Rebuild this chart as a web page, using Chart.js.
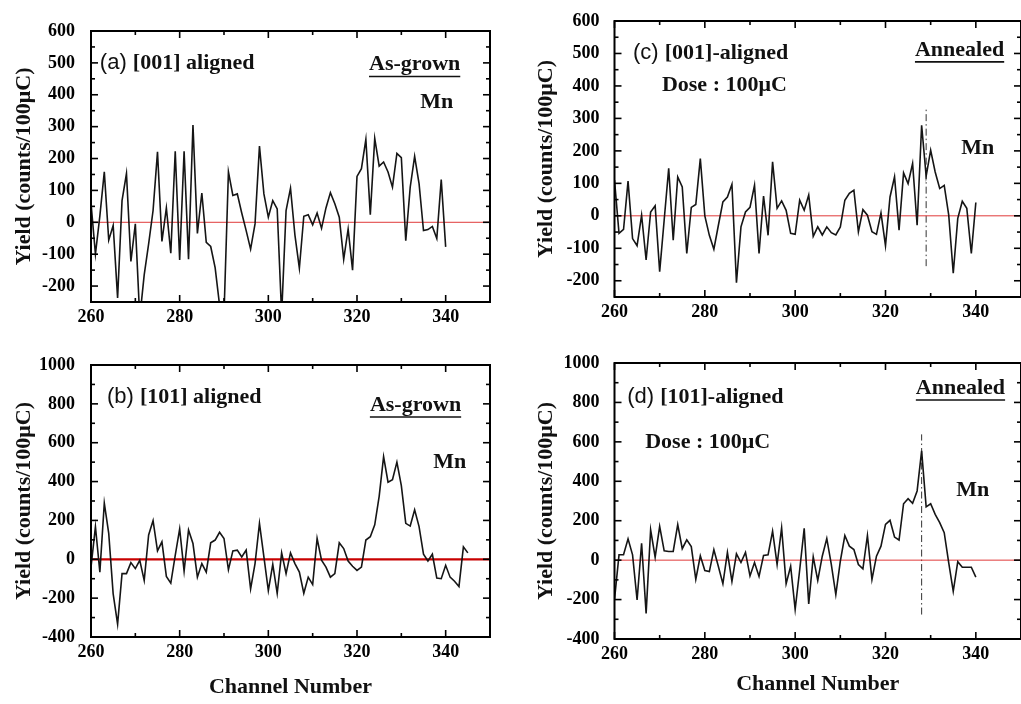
<!DOCTYPE html>
<html>
<head>
<meta charset="utf-8">
<script src="https://cdn.jsdelivr.net/npm/chart.js"></script>
<style>
  html, body { margin: 0; padding: 0; background: #fff; }
  body { width: 1021px; height: 704px; overflow: hidden; position: relative; }
  canvas { position: absolute; }
  #chartA { left: 0; top: 0; }
  #chartB { left: 0; top: 340px; }
  #chartC { left: 520px; top: 0; }
  #chartD { left: 520px; top: 340px; }
</style>
</head>
<body>
<canvas id="chartA" width="510" height="340"></canvas>
<canvas id="chartB" width="510" height="364"></canvas>
<canvas id="chartC" width="510" height="340"></canvas>
<canvas id="chartD" width="510" height="364"></canvas>
<script>
  // channel numbers
  const channelsTo340 = [
    260, 261, 262, 263, 264, 265, 266, 267, 268, 269, 270, 271, 272, 273, 274, 275, 276, 277, 278, 279,
    280, 281, 282, 283, 284, 285, 286, 287, 288, 289, 290, 291, 292, 293, 294, 295, 296, 297, 298, 299,
    300, 301, 302, 303, 304, 305, 306, 307, 308, 309, 310, 311, 312, 313, 314, 315, 316, 317, 318, 319,
    320, 321, 322, 323, 324, 325, 326, 327, 328, 329, 330, 331, 332, 333, 334, 335, 336, 337, 338, 339,
    340
  ];
  const channelsTo345 = channelsTo340.concat([341, 342, 343, 344, 345]);

  // yields (counts/100uC)
  const yieldA = [
    60, -100, 20, 158, -56, -10, -237, 68, 153, -123, -5, -300, -165, -68, 37, 221, -60, 45, -97, 223,
    -118, 223, -116, 305, -35, 92, -63, -76, -142, -260, -290, 158, 84, 89, 29, -26, -84, -5, 239, 89,
    16, 68, 42, -290, 37, 107, -40, -144, 19, 24, -8, 29, -19, 45, 93, 58, 16, -116, -21, -150,
    144, 168, 260, 24, 263, 176, 189, 158, 110, 216, 203, -58, 110, 207, 121, -26, -23, -13, -51, 134,
    -77
  ];
  const yieldB = [
    -40, 168, -66, 289, 133, -178, -334, -74, -74, -17, -48, -5, -109, 125, 199, 43, 90, -88, -123, 20,
    156, -61, 151, 81, -92, -22, -66, 85, 99, 139, 107, -54, 43, 47, 12, 47, -152, -22, 185, 12,
    -161, -26, -175, 33, -74, 33, -22, -66, -175, -92, -130, 107, -5, -40, -92, -74, 85, 55, -9, -36,
    -57, -40, 99, 116, 177, 324, 528, 397, 410, 500, 379, 185, 171, 255, 168, 26, -9, 26, -97, -100,
    -31, -92, -113, -140, 64, 33
  ];
  const yieldC = [
    110, -54, -42, 107, -70, -92, 2, -136, 12, 31, -172, -13, 146, -75, 120, 89, -116, 26, 35, 176,
    0, -60, -103, -29, 43, 58, 97, -206, -34, 12, 26, 94, -116, 61, -60, 166, 23, 46, 17, -54,
    -57, 48, 17, 64, -63, -34, -59, -34, -52, -59, -34, 48, 69, 79, -49, 19, 2, -49, -57, 9,
    -92, 58, 120, -44, 132, 99, 161, -29, 279, 122, 202, 135, 84, 94, 2, -177, -8, 45, 23, -116,
    41
  ];
  const yieldD = [
    -200, 27, 27, 108, 27, -202, 86, -270, 154, 15, 171, 47, 44, 44, 180, 58, 103, 69, -97, 22,
    -53, -58, 53, -32, -120, 39, -108, 32, -12, 39, -80, -12, -83, 24, 27, 147, -22, 164, -120, -31,
    -250, -50, 161, -222, 17, -103, 20, 110, -22, -175, -5, 125, 71, 54, -22, -44, 125, -98, 20, 71,
    181, 202, 117, 102, 286, 312, 288, 351, 554, 270, 286, 232, 190, 139, -14, -158, -8, -36, -36, -36,
    -86
  ];

  // axis ranges and tick steps
  const channelRange = [260, 350];
  const yRange001 = [-250, 600];
  const yRange101 = [-400, 1000];
  const zeroLevel = 0;

  // dash-dot Mn markers (channel, yield span)
  const markerC = [329, -155, 330];
  const markerD = [328, -276, 638];

  const serifBold = 'bold 22px "Liberation Serif", "DejaVu Serif", serif';
  const sans = '22px "Liberation Sans", Arial, sans-serif';

  const frameTicks = {
    id: 'frameTicks',
    afterDatasetsDraw(chart, args, opts) {
      const { ctx, chartArea: a, scales: { x, y } } = chart;
      ctx.save();
      ctx.strokeStyle = '#000';
      ctx.lineWidth = 2;
      ctx.strokeRect(a.left, a.top, a.right - a.left, a.bottom - a.top);
      ctx.lineWidth = 1.6;
      const seg = (x1, y1, x2, y2) => { ctx.beginPath(); ctx.moveTo(x1, y1); ctx.lineTo(x2, y2); ctx.stroke(); };
      const majX = x.ticks.map(t => t.value);
      for (let v = x.min; v <= x.max; v += opts.xMinor) {
        const p = x.getPixelForValue(v);
        const len = majX.includes(v) ? 7 : 4;
        seg(p, a.bottom, p, a.bottom - len);
        seg(p, a.top, p, a.top + len);
      }
      const majY = y.ticks.map(t => t.value);
      for (let v = y.min; v <= y.max; v += opts.yMinor) {
        const p = y.getPixelForValue(v);
        const len = majY.includes(v) ? 7 : 4;
        seg(a.left, p, a.left + len, p);
        seg(a.right, p, a.right - len, p);
      }
      ctx.restore();
    }
  };

  // text labels placed in data coordinates
  const notes = {
    id: 'notes',
    afterDraw(chart, args, opts) {
      const { ctx, scales: { x, y } } = chart;
      ctx.save();
      ctx.fillStyle = '#111';
      ctx.strokeStyle = '#111';
      ctx.textBaseline = 'middle';
      ctx.textAlign = 'left';
      for (const n of opts.items) {
        let w = 0;
        for (const p of n.parts) { ctx.font = p.font; w += ctx.measureText(p.text).width; }
        let px = x.getPixelForValue(n.x);
        const py = y.getPixelForValue(n.y);
        if (n.align === 'center') px -= w / 2;
        const start = px;
        for (const p of n.parts) {
          ctx.font = p.font;
          ctx.fillText(p.text, px, py);
          px += ctx.measureText(p.text).width;
        }
        if (n.underline) {
          ctx.lineWidth = 1.6;
          ctx.beginPath();
          ctx.moveTo(start, py + 12);
          ctx.lineTo(start + w, py + 12);
          ctx.stroke();
        }
      }
      ctx.restore();
    }
  };

  function makePanel(id, cfg) {
    const points = cfg.channels.map((c, i) => ({ x: c, y: cfg.yields[i] }));
    const datasets = [
      { data: points, borderColor: '#151515', borderWidth: 1.6, pointRadius: 0, tension: 0, order: 0 },
      { data: [{ x: channelRange[0], y: zeroLevel }, { x: channelRange[1], y: zeroLevel }],
        borderColor: cfg.zeroColor, borderWidth: cfg.zeroWidth, pointRadius: 0, order: 1 }
    ];
    if (cfg.marker) {
      datasets.push({
        data: [{ x: cfg.marker[0], y: cfg.marker[1] }, { x: cfg.marker[0], y: cfg.marker[2] }],
        borderColor: '#333', borderWidth: 1, borderDash: [7, 3, 1.5, 3], pointRadius: 0, order: 2
      });
    }
    const tickFont = { family: '"Liberation Serif", "DejaVu Serif", serif', weight: 'bold', size: 18 };
    const titleFont = { family: '"Liberation Serif", "DejaVu Serif", serif', weight: 'bold', size: 22, lineHeight: 1.2 };
    new Chart(document.getElementById(id), {
      type: 'line',
      data: { datasets },
      options: {
        responsive: false,
        animation: false,
        layout: { padding: cfg.padding },
        scales: {
          x: {
            type: 'linear',
            min: channelRange[0],
            max: channelRange[1],
            grid: { display: false, drawTicks: false },
            border: { display: false },
            ticks: { stepSize: 20, includeBounds: false, color: '#000', font: tickFont, padding: 5, maxRotation: 0,
                     callback: v => String(v) },
            title: {
              display: cfg.showXTitle,
              text: 'Channel Number',
              color: '#111',
              font: titleFont,
              padding: { top: 0, bottom: cfg.xTitlePad }
            },
            afterFit: s => { s.height = cfg.xHeight; }
          },
          y: {
            min: cfg.yRange[0],
            max: cfg.yRange[1],
            grid: { display: false },
            border: { display: false },
            ticks: { stepSize: cfg.yStep, includeBounds: false, color: '#000', font: tickFont, padding: cfg.yTickPad,
                     callback: v => String(v) },
            title: {
              display: true,
              text: 'Yield (counts/100μC)',
              color: '#111',
              font: titleFont,
              padding: { top: cfg.yTitlePad, bottom: 0 }
            },
            afterFit: s => { s.width = cfg.yWidth; }
          }
        },
        plugins: {
          legend: { display: false },
          tooltip: { enabled: false },
          frameTicks: { xMinor: 10, yMinor: cfg.yStep / 2 },
          notes: { items: cfg.notes }
        }
      },
      plugins: [frameTicks, notes]
    });
  }

  makePanel('chartA', {
    channels: channelsTo340, yields: yieldA, yRange: yRange001, yStep: 100,
    zeroColor: '#e03a3a', zeroWidth: 1,
    padding: { left: 0, top: 31, right: 20, bottom: 0 },
    yWidth: 91, xHeight: 38, yTickPad: 8, yTitlePad: 11, showXTitle: false, xTitlePad: 0,
    notes: [
      { x: 262, y: 500, parts: [{ text: '(a) ', font: sans }, { text: '[001] aligned', font: serifBold }] },
      { x: 333, y: 495, align: 'center', underline: true, parts: [{ text: 'As-grown', font: serifBold }] },
      { x: 338, y: 375, align: 'center', parts: [{ text: 'Mn', font: serifBold }] }
    ]
  });

  makePanel('chartB', {
    channels: channelsTo345, yields: yieldB, yRange: yRange101, yStep: 200,
    zeroColor: '#c80000', zeroWidth: 2.2,
    padding: { left: 0, top: 25, right: 20, bottom: 0 },
    yWidth: 91, xHeight: 67, yTickPad: 8, yTitlePad: 11, showXTitle: true, xTitlePad: 3,
    notes: [
      { x: 263.6, y: 835, parts: [{ text: '(b) ', font: sans }, { text: '[101] aligned', font: serifBold }] },
      { x: 333.2, y: 794, align: 'center', underline: true, parts: [{ text: 'As-grown', font: serifBold }] },
      { x: 340.9, y: 500, align: 'center', parts: [{ text: 'Mn', font: serifBold }] }
    ]
  });

  makePanel('chartC', {
    channels: channelsTo340, yields: yieldC, yRange: yRange001, yStep: 100, marker: markerC,
    zeroColor: '#e03a3a', zeroWidth: 1,
    padding: { left: 0, top: 21, right: 9, bottom: 0 },
    yWidth: 94.5, xHeight: 43, yTickPad: 7, yTitlePad: 13, showXTitle: false, xTitlePad: 0,
    notes: [
      { x: 264.1, y: 501, parts: [{ text: '(c) ', font: sans }, { text: '[001]-aligned', font: serifBold }] },
      { x: 270.5, y: 403, parts: [{ text: 'Dose : 100μC', font: serifBold }] },
      { x: 336.4, y: 511, align: 'center', underline: true, parts: [{ text: 'Annealed', font: serifBold }] },
      { x: 340.4, y: 209, align: 'center', parts: [{ text: 'Mn', font: serifBold }] }
    ]
  });

  makePanel('chartD', {
    channels: channelsTo340, yields: yieldD, yRange: yRange101, yStep: 200, marker: markerD,
    zeroColor: '#e03a3a', zeroWidth: 1,
    padding: { left: 0, top: 23, right: 9, bottom: 0 },
    yWidth: 94.5, xHeight: 65, yTickPad: 7, yTitlePad: 13, showXTitle: true, xTitlePad: 6,
    notes: [
      { x: 262.8, y: 828, parts: [{ text: '(d) ', font: sans }, { text: '[101]-aligned', font: serifBold }] },
      { x: 266.8, y: 600, parts: [{ text: 'Dose : 100μC', font: serifBold }] },
      { x: 336.6, y: 873, align: 'center', underline: true, parts: [{ text: 'Annealed', font: serifBold }] },
      { x: 339.3, y: 356, align: 'center', parts: [{ text: 'Mn', font: serifBold }] }
    ]
  });
</script>
</body>
</html>
